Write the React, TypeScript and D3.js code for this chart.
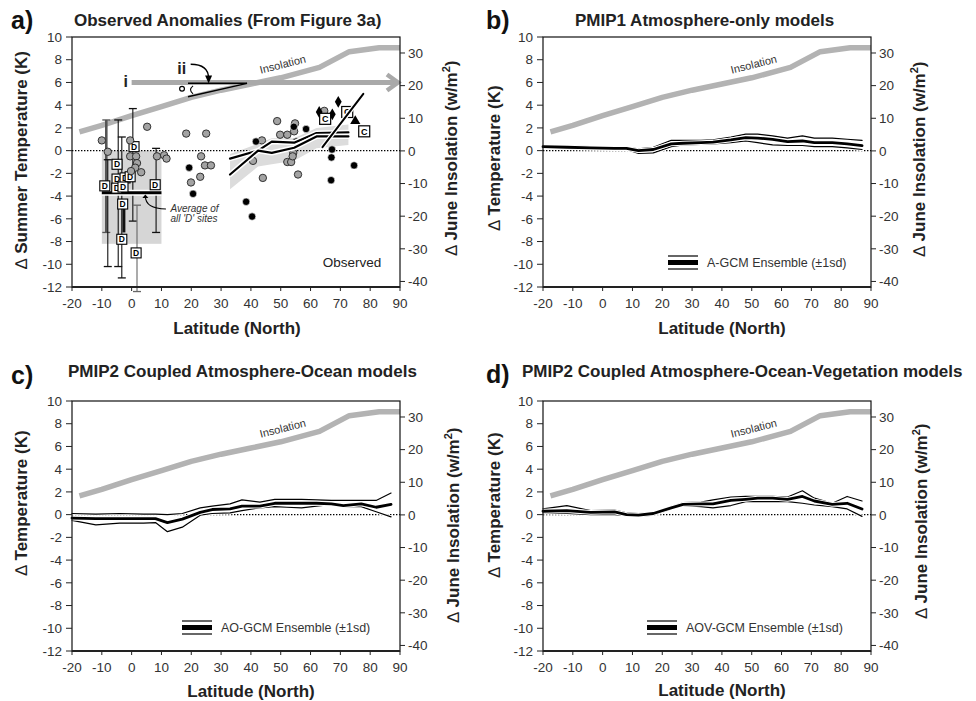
import React from 'react';
import * as d3 from 'd3';

const FONT = 'Liberation Sans, Arial, Helvetica, sans-serif';

// ---------- axes ----------
const latTicks = [-20, -10, 0, 10, 20, 30, 40, 50, 60, 70, 80, 90];
const tempTicks = [10, 8, 6, 4, 2, 0, -2, -4, -6, -8, -10, -12];
const insolTicks = [30, 20, 10, 0, -10, -20, -30, -40];

// ---------- insolation curve (W/m2) ----------
const insolLat = [-17.5, -10, 0, 10, 20, 30, 40, 50, 63, 73, 83, 90];
const insolWm2 = [5.8, 7.8, 10.8, 13.6, 16.4, 18.6, 20.5, 22.4, 25.6, 30.4, 31.6, 31.6];

// ---------- model ensembles (K) ----------
const modelLat = [-20, -12, -4, 4, 8, 12, 17, 23, 27, 33, 37, 43, 48, 52, 57, 62, 67, 71, 77, 82, 87];
const pmip1Upper = [0.45, 0.4, 0.35, 0.3, 0.3, 0.15, 0.3, 0.9, 0.9, 0.9, 0.95, 1.2, 1.45, 1.45, 1.3, 1.1, 1.3, 1.1, 1.1, 1.0, 0.9];
const pmip1Mean = [0.35, 0.3, 0.25, 0.2, 0.2, 0.0, 0.1, 0.6, 0.65, 0.7, 0.75, 0.95, 1.15, 1.1, 1.0, 0.8, 0.85, 0.7, 0.7, 0.6, 0.45];
const pmip1Lower = [0.25, 0.2, 0.15, 0.1, 0.1, -0.25, -0.2, 0.35, 0.5, 0.55, 0.6, 0.7, 0.85, 0.7, 0.5, 0.45, 0.45, 0.35, 0.35, 0.25, 0.1];
const aoUpper = [0.1, 0.05, 0.1, 0.05, 0.05, 0.0, 0.1, 0.6, 0.75, 0.95, 1.3, 1.1, 1.35, 1.35, 1.35, 1.3, 1.25, 1.25, 1.25, 1.25, 1.9];
const aoMean = [-0.3, -0.35, -0.35, -0.35, -0.35, -0.7, -0.4, 0.2, 0.45, 0.5, 0.75, 0.75, 1.0, 1.0, 1.0, 1.0, 0.95, 0.8, 0.95, 0.65, 0.9];
const aoLower = [-0.5, -0.9, -0.75, -0.75, -0.7, -1.5, -1.1, -0.05, 0.1, 0.15, 0.35, 0.6, 0.7, 0.65, 0.6, 0.75, 0.9, 0.7, 0.7, 0.25, -0.2];
const aovUpper = [0.5, 0.8, 0.35, 0.4, 0.15, 0.1, 0.15, 0.7, 1.05, 1.1, 1.3, 1.55, 1.6, 1.6, 1.6, 1.55, 2.1, 1.45, 1.0, 1.6, 1.2];
const aovMean = [0.3, 0.35, 0.2, 0.25, 0.0, -0.05, 0.1, 0.6, 0.9, 0.95, 0.95, 1.25, 1.35, 1.45, 1.45, 1.35, 1.6, 1.2, 0.9, 1.0, 0.5];
const aovLower = [0.15, 0.1, 0.0, 0.0, -0.1, -0.15, -0.05, 0.5, 0.8, 0.7, 0.6, 0.8, 1.15, 1.15, 1.15, 1.15, 1.0, 0.85, 0.7, 0.5, -0.15];

// ---------- observed (panel a) ----------
const dBoxLat = [-10, 10];
const dBoxK = [-8.2, 0];
const dMeanK = -3.7;
const dSites = [[0.8, 0.35], [-4.9, -1.2], [-4.9, -2.5], [-2.2, -2.4], [-0.5, -2.3], [-9, -3.1], [-5, -3.3], [-2.9, -3.2], [7.9, -3.0], [-3, -4.7], [-3.3, -7.8], [1.5, -9.0]];
// [lat, hi, lo, style]
const errBars: [number, number, number, string][] = [
  [-8.5, 2.7, -7.2, 'thick'], [-8, -0.8, -10.2, 'thin'], [-4.5, 2.7, -10.2, 'thin'], [-3.3, 1.2, -11.2, 'thin'],
  [0.4, 3.7, -6.2, 'thin'], [1.8, -4.8, -12.4, 'gray'], [8.2, 0.2, -7.2, 'thin'], [-2.6, -5.0, -7.2, 'bold'],
];
const grayCircles = [[-10, 0.9], [-8, -0.1], [5.2, 2.1], [-0.5, 0.9], [-0.5, -0.5], [1.5, -0.5], [1.8, -1.1], [1.2, -1.5], [3.2, -1.9], [-0.2, -1.8], [8.5, -0.5], [10.9, -0.4], [11.7, -0.7],
  [18.3, 1.5], [25, 1.5], [23.3, -0.5], [24.6, -1.3], [26.6, -1.3], [23, -2.3], [19.9, -2.8],
  [43.7, 0.9], [48.8, 2.6], [49.8, 1.4], [52.2, 1.4], [54.8, 2.4], [54.5, 1.7], [54.2, -0.2], [52.2, -1.0], [53.5, -1.0], [54, -0.5], [44, -2.4], [55.8, -2.1], [40.7, -0.9], [64.6, 3.5]];
const blackCircles = [[19.3, -1.5], [20.6, -3.8], [41.7, 0.8], [38.4, -4.5], [40.4, -5.8], [54.4, 2.1], [58.5, 1.9], [55.2, 0.8], [67.2, 0.1], [67, -0.6], [66.9, -2.6], [74.6, -1.3]];
const diamonds = [[69.3, 4.3], [62.9, 3.4], [67.3, 3.2]];
const triangles = [[75, 2.6]];
const cSites = [[64.9, 2.8], [72.3, 3.4], [78, 1.7]];
const regLat = [33, 42.4, 47, 54.5, 62, 72.7];
const regUpper = [-0.7, 0.0, 0.8, 0.7, 1.55, 1.6];
const regLower = [-2.1, 0.0, -0.2, 0.25, 1.25, 1.25];
const regBandHi = [-0.3, 0.6, 1.1, 1.1, 2.0, 2.3];
const regBandLo = [-3.4, -1.4, -1.2, -0.9, 0.2, 0.5];
const steepLat = [64, 77.7];
const steepK = [0.3, 5.0];

const W = 328, H = 250;

function scales(left: number, top: number) {
  const x = d3.scaleLinear().domain([-20, 90]).range([left, left + W]);
  const y = d3.scaleLinear().domain([-12, 10]).range([top + H, top]);
  const yW = d3.scaleLinear().domain([-41.7, 34.9]).range([top + H, top]);
  return { x, y, yW };
}

function Halo({ d, w, color = '#000', halo = 2.4 }: any) {
  return (
    <g fill="none" strokeLinejoin="round" strokeLinecap="round">
      <path d={d} stroke="#fff" strokeWidth={w + halo} />
      <path d={d} stroke={color} strokeWidth={w} />
    </g>
  );
}

function Panel(p: any) {
  const { left, top } = p;
  const { x, y, yW } = scales(left, top);
  const insolLine = d3.line<number>().x((_, i) => x(insolLat[i])).y((v) => yW(v));
  const labLat = 51;
  const labW = d3.scaleLinear().domain(insolLat).range(insolWm2)(labLat);
  return (
    <g fontFamily={FONT}>
      {p.under && p.under(x, y)}
      <path d={insolLine(insolWm2) || ''} fill="none" stroke="#b3b3b3" strokeWidth={5.5} strokeLinejoin="round" />
      <text x={x(labLat)} y={yW(labW) - 9} fontSize={11} fill="#333" textAnchor="middle"
        transform={`rotate(-14, ${x(labLat)}, ${yW(labW) - 9})`}>Insolation</text>
      <line x1={left} x2={left + W} y1={y(0)} y2={y(0)} stroke="#000" strokeWidth={1.1} strokeDasharray="1.4,1.6" />
      {p.children && p.children(x, y)}
      {/* frame */}
      <rect x={left} y={top} width={W} height={H} fill="none" stroke="#111" strokeWidth={1.2} />
      <line x1={left} x2={left + W} y1={top + H} y2={top + H} stroke="#222" strokeWidth={1.8} />
      {tempTicks.map((t) => (
        <g key={'l' + t}>
          <line x1={left - 6} x2={left} y1={y(t)} y2={y(t)} stroke="#222" strokeWidth={1} />
          <text x={left - 10} y={y(t)} dy="0.35em" textAnchor="end" fontSize={13.5} fill="#333">{t}</text>
        </g>
      ))}
      {insolTicks.map((t) => (
        <g key={'r' + t}>
          <line x1={left + W} x2={left + W + 5} y1={yW(t)} y2={yW(t)} stroke="#222" strokeWidth={1} />
          <text x={left + W + 8} y={yW(t)} dy="0.35em" textAnchor="start" fontSize={13.5} fill="#333">{t}</text>
        </g>
      ))}
      {latTicks.map((t) => (
        <g key={'b' + t}>
          <line x1={x(t)} x2={x(t)} y1={top + H} y2={top + H + 4} stroke="#222" strokeWidth={1} />
          <text x={x(t)} y={top + H + 21} textAnchor="middle" fontSize={13.5} fill="#333">{t}</text>
        </g>
      ))}
      <text x={p.letterX} y={p.letterY} fontSize={25} fontWeight="bold" fill="#111">{p.letter}</text>
      <text x={p.titleX} y={p.titleY} fontSize={17} fontWeight="bold" fill="#222">{p.title}</text>
      <text x={p.xlX} y={p.xlY} fontSize={17} fontWeight="bold" fill="#222" textAnchor="middle">Latitude (North)</text>
      <text x={p.llX} y={p.llY} dy="0.35em" fontSize={17} fontWeight="bold" fill="#222" textAnchor="middle"
        transform={`rotate(-90, ${p.llX}, ${p.llY})`}><tspan fontWeight="normal">∆</tspan> {p.leftLabel}</text>
      <text x={p.rlX} y={p.rlY} dy="0.35em" fontSize={17} fontWeight="bold" fill="#222" textAnchor="middle"
        transform={`rotate(-90, ${p.rlX}, ${p.rlY})`}><tspan fontWeight="normal">∆</tspan> June Insolation (w/m<tspan fontSize={11} dy="-7">2</tspan><tspan dy="7">)</tspan></text>
    </g>
  );
}

function ModelPanel(p: any) {
  return (
    <Panel {...p}>
      {(x: any, y: any) => {
        const line = d3.line<number>().x((_, i) => x(modelLat[i])).y((v) => y(v));
        const L = p.legend;
        return (
          <g>
            <Halo d={line(p.upper)} w={1.2} halo={2} />
            <Halo d={line(p.lower)} w={1.2} halo={2} />
            <Halo d={line(p.mean)} w={2.8} halo={2} />
            <g>
              <line x1={p.left + L[0]} x2={p.left + L[0] + 30} y1={p.top + L[1]} y2={p.top + L[1]} stroke="#000" strokeWidth={1.2} />
              <line x1={p.left + L[0]} x2={p.left + L[0] + 30} y1={p.top + L[1] + 6.5} y2={p.top + L[1] + 6.5} stroke="#000" strokeWidth={5} />
              <line x1={p.left + L[0]} x2={p.left + L[0] + 30} y1={p.top + L[1] + 13} y2={p.top + L[1] + 13} stroke="#000" strokeWidth={1.2} />
              <text x={p.left + L[0] + 39} y={p.top + L[1] + 6.5} dy="0.35em" fontSize={12.5} fill="#333">{p.legendText}</text>
            </g>
          </g>
        );
      }}
    </Panel>
  );
}

function ObservedPanel(p: any) {
  return (
    <Panel {...p}
      under={(x: any, y: any) => {
        const area = d3.area<number>().x((_, i) => x(regLat[i])).y0((_, i) => y(regBandLo[i])).y1((v) => y(v));
        return (
          <g>
            <rect x={x(dBoxLat[0])} y={y(dBoxK[1])} width={x(dBoxLat[1]) - x(dBoxLat[0])} height={y(dBoxK[0]) - y(dBoxK[1])} fill="#d6d6d6" />
            <path d={area(regBandHi) || ''} fill="#dcdcdc" />
          </g>
        );
      }}>
      {(x: any, y: any) => {
        const line = d3.line<number>().x((_, i) => x(regLat[i])).y((v) => y(v));
        const steep = d3.line<number>().x((_, i) => x(steepLat[i])).y((v) => y(v));
        const ay = y(6);
        return (
          <g>
            {/* gray arrow i */}
            <line x1={x(0)} x2={x(90) - 3} y1={ay} y2={ay} stroke="#a9a9a9" strokeWidth={5} />
            <polyline points={`${x(90) - 13},${ay - 8} ${x(90) - 2},${ay} ${x(90) - 13},${ay + 8}`} fill="none" stroke="#a9a9a9" strokeWidth={4.5} />
            <text x={x(-2)} y={ay + 5} fontSize={16} fontWeight="bold" fill="#222" textAnchor="middle">i</text>
            <text x={x(16.8)} y={ay - 8} fontSize={16} fontWeight="bold" fill="#222" textAnchor="middle">ii</text>
            {/* angle wedge */}
            <line x1={x(18.9)} x2={x(38.7)} y1={y(5.92)} y2={y(5.92)} stroke="#000" strokeWidth={1.5} />
            <line x1={x(18.9)} x2={x(38.7)} y1={y(4.75)} y2={y(5.92)} stroke="#000" strokeWidth={1.5} />
            <circle cx={x(16.9)} cy={y(5.45)} r={2.4} fill="#fff" stroke="#000" strokeWidth={1.2} />
            <path d={`M${x(20.6)},${y(5.7)} Q${x(18.9)},${y(5.35)} ${x(20.6)},${y(5.0)}`} fill="none" stroke="#000" strokeWidth={1.1} />
            <path d={`M${x(19.8)},${y(7.6)} Q${x(25.8)},${y(7.6)} ${x(25.8)},${y(6.35)}`} fill="none" stroke="#000" strokeWidth={1.3} />
            <path d={`M${x(25.8) - 3.5},${y(6.35) - 3} L${x(25.8)},${y(6.0) + 1} L${x(25.8) + 3.5},${y(6.35) - 3} Z`} fill="#000" />
            {/* error bars */}
            {errBars.map(([lat, hi, lo, s], i) => {
              const col = s === 'gray' ? '#666' : s === 'thick' ? '#555' : '#111';
              const sw = s === 'thick' ? 2.6 : s === 'bold' ? 3 : 1.1;
              return (
                <g key={'e' + i} stroke={col}>
                  <line x1={x(lat)} x2={x(lat)} y1={y(hi)} y2={y(lo)} strokeWidth={sw} />
                  {s !== 'bold' && <line x1={x(lat) - 4} x2={x(lat) + 4} y1={y(hi)} y2={y(hi)} strokeWidth={1.3} />}
                  {s !== 'bold' && <line x1={x(lat) - 4} x2={x(lat) + 4} y1={y(lo)} y2={y(lo)} strokeWidth={1.3} />}
                </g>
              );
            })}
            {/* mean of D sites */}
            <line x1={x(dBoxLat[0])} x2={x(dBoxLat[1])} y1={y(dMeanK)} y2={y(dMeanK)} stroke="#fff" strokeWidth={6} />
            <line x1={x(dBoxLat[0])} x2={x(dBoxLat[1])} y1={y(dMeanK)} y2={y(dMeanK)} stroke="#000" strokeWidth={3} />
            {dSites.map(([lat, k], i) => (
              <g key={'d' + i}>
                <rect x={x(lat) - 5} y={y(k) - 5} width={10} height={10} fill="#fff" stroke="#000" strokeWidth={1.1} />
                <text x={x(lat)} y={y(k)} dy="0.36em" fontSize={8.5} fontWeight="bold" textAnchor="middle" fill="#000">D</text>
              </g>
            ))}
            {grayCircles.map(([lat, k], i) => (
              <circle key={'g' + i} cx={x(lat)} cy={y(k)} r={3.7} fill="#a3a3a3" stroke="#222" strokeWidth={0.9} />
            ))}
            {blackCircles.map(([lat, k], i) => (
              <circle key={'b' + i} cx={x(lat)} cy={y(k)} r={3.7} fill="#000" stroke="#fff" strokeWidth={0.6} />
            ))}
            {diamonds.map(([lat, k], i) => (
              <path key={'di' + i} d={d3.symbol(d3.symbolDiamond, 40)() || ''} transform={`translate(${x(lat)},${y(k)})`} fill="#000" />
            ))}
            {triangles.map(([lat, k], i) => (
              <path key={'t' + i} d={d3.symbol(d3.symbolTriangle, 45)() || ''} transform={`translate(${x(lat)},${y(k)})`} fill="#000" />
            ))}
            {cSites.map(([lat, k], i) => (
              <g key={'c' + i}>
                <rect x={x(lat) - 5.5} y={y(k) - 5.5} width={11} height={11} fill="#fff" stroke="#000" strokeWidth={1.2} />
                <text x={x(lat)} y={y(k)} dy="0.36em" fontSize={9} fontWeight="bold" textAnchor="middle" fill="#000">C</text>
              </g>
            ))}
            <Halo d={line(regUpper)} w={2.2} halo={3} />
            <Halo d={line(regLower)} w={2.2} halo={3} />
            <Halo d={steep(steepK)} w={2} halo={2.5} />
            {/* annotation */}
            <text x={x(13)} y={y(-5.4)} fontSize={10} fontStyle="italic" fill="#333">Average of</text>
            <text x={x(13)} y={y(-6.3)} fontSize={10} fontStyle="italic" fill="#333">all 'D' sites</text>
            <path d={`M${x(11.5)},${y(-5.4) - 3} Q${x(4.6)},${y(-5.4) - 3} ${x(4.6)},${y(-4.0)}`} fill="none" stroke="#000" strokeWidth={1.1} />
            <path d={`M${x(4.6) - 3},${y(-4.0) + 2} L${x(4.6)},${y(-3.85)} L${x(4.6) + 3},${y(-4.0) + 2} Z`} fill="#000" />
            <text x={p.left + 280} y={p.top + 225} dy="0.35em" fontSize={13.5} fill="#222" textAnchor="middle">Observed</text>
          </g>
        );
      }}
    </Panel>
  );
}

export default function App() {
  return (
    <svg width={976} height={701} style={{ position: 'absolute', left: 0, top: 0, background: '#fff' }}>
      <rect width={976} height={701} fill="#fff" />
      <ObservedPanel left={72} top={37} letter="a)" letterX={11} letterY={29} title="Observed Anomalies (From Figure 3a)" titleX={74} titleY={26}
        xlX={237} xlY={334} llX={21} llY={160} leftLabel="Summer Temperature (K)" rlX={451} rlY={158} />
      <ModelPanel left={543} top={37} letter="b)" letterX={486} letterY={29} title="PMIP1 Atmosphere-only models" titleX={575} titleY={26}
        xlX={722} xlY={334} llX={494} llY={158} leftLabel="Temperature (K)" rlX={919} rlY={159}
        upper={pmip1Upper} mean={pmip1Mean} lower={pmip1Lower} legend={[125, 219]} legendText="A-GCM Ensemble (±1sd)" />
      <ModelPanel left={72} top={401} letter="c)" letterX={11} letterY={384} title="PMIP2 Coupled Atmosphere-Ocean models" titleX={68} titleY={377}
        xlX={251} xlY={697} llX={21} llY={503} leftLabel="Temperature (K)" rlX={453} rlY={525}
        upper={aoUpper} mean={aoMean} lower={aoLower} legend={[110, 220]} legendText="AO-GCM Ensemble (±1sd)" />
      <ModelPanel left={543} top={401} letter="d)" letterX={486} letterY={383} title="PMIP2 Coupled Atmosphere-Ocean-Vegetation models" titleX={522} titleY={377}
        xlX={722} xlY={696} llX={494} llY={505} leftLabel="Temperature (K)" rlX={921} rlY={521}
        upper={aovUpper} mean={aovMean} lower={aovLower} legend={[104, 220]} legendText="AOV-GCM Ensemble (±1sd)" />
    </svg>
  );
}
